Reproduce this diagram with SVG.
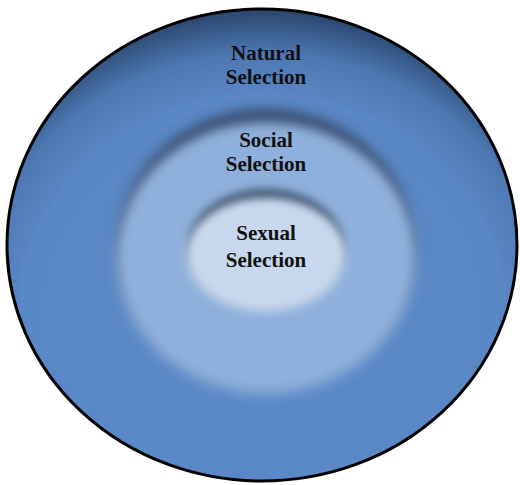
<svg xmlns="http://www.w3.org/2000/svg" width="520" height="485" viewBox="0 0 520 485">
<style>
.lbl{font-family:"Liberation Serif","Times New Roman",serif;font-weight:bold;font-size:21px;fill:#111;text-anchor:middle}
</style>
<defs>
<radialGradient id="gOuter" cx="0.5" cy="0.66" r="0.66">
<stop offset="0" stop-color="#5c8ac8"/>
<stop offset="0.72" stop-color="#5a87c5"/>
<stop offset="0.86" stop-color="#4c77b1"/>
<stop offset="1" stop-color="#2a456c"/>
</radialGradient>
<filter id="b6" x="-20%" y="-20%" width="140%" height="140%"><feGaussianBlur stdDeviation="6"/></filter>
<filter id="b4" x="-20%" y="-20%" width="140%" height="140%"><feGaussianBlur stdDeviation="4"/></filter>
<clipPath id="cOuter"><ellipse cx="262" cy="245" rx="255" ry="236"/></clipPath>
</defs>
<g id="natural">
<ellipse cx="262" cy="245" rx="255" ry="236" fill="url(#gOuter)"/>
<text class="lbl" x="266" y="60">Natural</text>
<text class="lbl" x="266" y="84">Selection</text>
</g>
<g id="social" clip-path="url(#cOuter)">
<ellipse cx="266" cy="247" rx="148" ry="138" fill="#34496a" filter="url(#b6)"/>
<ellipse cx="266" cy="258" rx="150" ry="136" fill="#8fb0dc" filter="url(#b6)"/>
<text class="lbl" x="266" y="147">Social</text>
<text class="lbl" x="266" y="171">Selection</text>
</g>
<g id="sexual">
<ellipse cx="266" cy="247" rx="78" ry="58" fill="#3e526e" filter="url(#b4)"/>
<ellipse cx="266" cy="255" rx="80" ry="57" fill="#c7d8ee" filter="url(#b4)"/>
<text class="lbl" x="266" y="240">Sexual</text>
<text class="lbl" x="266" y="267">Selection</text>
</g>
<g id="border">
<ellipse cx="262" cy="245" rx="255" ry="236" fill="none" stroke="#000" stroke-width="3"/>
</g>
<g id="connectors"/>
</svg>
